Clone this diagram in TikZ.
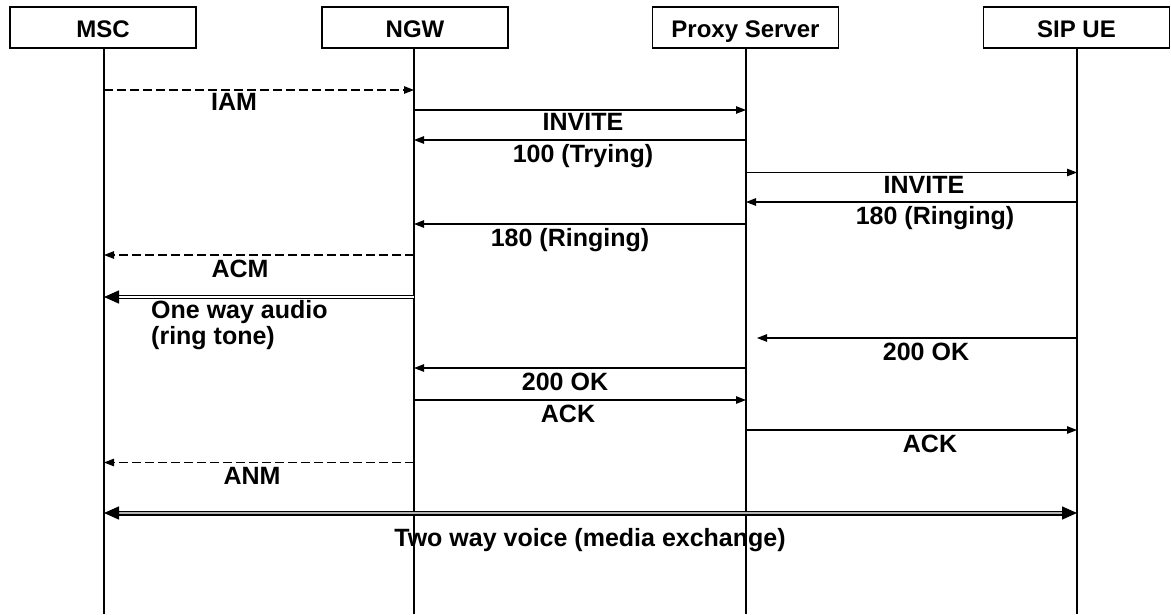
\documentclass[tikz,border=0pt]{standalone}
\usepackage{fontspec}
\setmainfont{Liberation Sans}
\usetikzlibrary{arrows.meta}
\tikzset{bigtip/.tip={Triangle[length=15pt,width=13pt]},
         smalltip/.tip={Triangle[length=10pt,width=7.5pt]}}
\begin{document}
\begin{tikzpicture}[x=1pt,y=-1pt,
  ent/.style={draw,line width=1.2pt,minimum width=186pt,minimum height=41pt,inner sep=0pt,
     text height=22pt,text depth=2pt,
     font=\fontsize{24}{26}\selectfont\bfseries},
  life/.style={line width=1.1pt},
  msg/.style={line width=1.2pt,-{smalltip}},
  dmsg/.style={msg,dash pattern=on 9pt off 4pt},
  media/.style={draw,line width=1.5pt,double=white,double distance=1.6pt},
  lbl/.style={anchor=base,inner sep=0pt,font=\fontsize{25}{26}\selectfont\bfseries}
]
\useasboundingbox (0,0) rectangle (1171,614);
\fill[white] (0,0) rectangle (1171,614);

% entities
\node[ent] (msc) at (103,27.5) {MSC};
\node[ent] (ngw) at (415,27.5) {NGW};
\node[ent] (prx) at (745.5,27.5) {Proxy Server};
\node[ent] (sip) at (1076.5,27.5) {SIP UE};

% lifeline ends
\coordinate (mscB) at (104,614);
\coordinate (ngwB) at (414,614);
\coordinate (prxB) at (746,614);
\coordinate (sipB) at (1077,614);
\draw[life] (msc.south -| mscB) -- (mscB);
\draw[life] (ngw.south -| ngwB) -- (ngwB);
\draw[life] (prx.south -| prxB) -- (prxB);
\draw[life] (sip.south -| sipB) -- (sipB);

% IAM
\coordinate (iamA) at (104,90); \coordinate (iamB) at (414,90);
\draw[dmsg] (iamA) -- (iamB);
\node[lbl] (iam) at (234,110) {IAM};

% INVITE NGW->Proxy
\coordinate (inv1A) at (414,110); \coordinate (inv1B) at (746,110);
\draw[msg] (inv1A) -- (inv1B);
\node[lbl] (inv1) at (583,130) {INVITE};

% 100 Trying
\coordinate (tryA) at (746,140); \coordinate (tryB) at (414,140);
\draw[msg] (tryA) -- (tryB);
\node[lbl] (try) at (583,162) {100 (Trying)};

% INVITE Proxy->SIP
\coordinate (inv2A) at (746,172.5); \coordinate (inv2B) at (1077,172.5);
\draw[msg] (inv2A) -- (inv2B);
\node[lbl] (inv2) at (924,193) {INVITE};

% 180 SIP->Proxy
\coordinate (r1A) at (1077,202); \coordinate (r1B) at (746,202);
\draw[msg] (r1A) -- (r1B);
\node[lbl] (r1) at (935,224) {180 (Ringing)};

% 180 Proxy->NGW
\coordinate (r2A) at (746,224); \coordinate (r2B) at (414,224);
\draw[msg] (r2A) -- (r2B);
\node[lbl] (r2) at (570,246) {180 (Ringing)};

% ACM
\coordinate (acmA) at (414,255); \coordinate (acmB) at (104,255);
\draw[dmsg] (acmA) -- (acmB);
\node[lbl] (acm) at (240,277) {ACM};

% One way audio
\coordinate (owA) at (414,297); \coordinate (owB) at (104,297);
\draw[media,-{bigtip}] (owA) -- (owB);
\node[anchor=north west,inner sep=0pt,align=left,font=\fontsize{25}{26}\selectfont\bfseries]
  (ow) at (151,300) {One way audio\\(ring tone)};

% 200 OK SIP->Proxy
\coordinate (ok1A) at (1077,338); \coordinate (ok1B) at (757,338);
\draw[msg] (ok1A) -- (ok1B);
\node[lbl] (ok1) at (926,360) {200 OK};

% 200 OK Proxy->NGW
\coordinate (ok2A) at (746,368); \coordinate (ok2B) at (414,368);
\draw[msg] (ok2A) -- (ok2B);
\node[lbl] (ok2) at (565,390) {200 OK};

% ACK NGW->Proxy
\coordinate (ack1A) at (414,400); \coordinate (ack1B) at (746,400);
\draw[msg] (ack1A) -- (ack1B);
\node[lbl] (ack1) at (568,422) {ACK};

% ACK Proxy->SIP
\coordinate (ack2A) at (746,430); \coordinate (ack2B) at (1077,430);
\draw[msg] (ack2A) -- (ack2B);
\node[lbl] (ack2) at (930,452) {ACK};

% ANM
\coordinate (anmA) at (414,462.5); \coordinate (anmB) at (104,462.5);
\draw[dmsg] (anmA) -- (anmB);
\node[lbl] (anm) at (252,484) {ANM};

% Two way voice
\coordinate (twA) at (104,513); \coordinate (twB) at (1077,513);
\draw[media,double=gray!60,double distance=2pt,{bigtip}-{bigtip}] (twA) -- (twB);
\node[lbl] (tw) at (590,546) {Two way voice (media exchange)};
\end{tikzpicture}
\end{document}
